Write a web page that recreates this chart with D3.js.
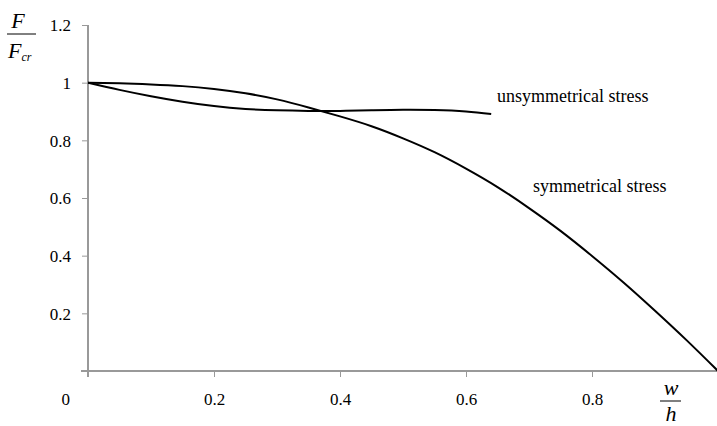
<!DOCTYPE html>
<html>
<head>
<meta charset="utf-8">
<script src="https://cdn.jsdelivr.net/npm/d3@7"></script>
<style>
	body{ margin:0; background:#fff; }
</style>
</head>
<body>
<svg id="chart" width="717" height="426"></svg>
<script>
	// w/h values and F/Fcr
	var symX = [0, 0.05, 0.1, 0.15, 0.2, 0.25, 0.3, 0.35, 0.4, 0.45, 0.5, 0.55, 0.6, 0.65, 0.7, 0.75, 0.8, 0.85, 0.9, 0.95, 1.0];
	var symY = [1.0, 0.998, 0.994, 0.988, 0.978, 0.963, 0.942, 0.914, 0.883, 0.849, 0.807, 0.759, 0.702, 0.638, 0.565, 0.486, 0.399, 0.307, 0.209, 0.107, 0.0];
	var unsymX = [0, 0.05, 0.1, 0.15, 0.2, 0.25, 0.3, 0.35, 0.4, 0.45, 0.5, 0.55, 0.6, 0.64];
	var unsymY = [1.0, 0.975, 0.953, 0.934, 0.919, 0.909, 0.904, 0.902, 0.902, 0.904, 0.906, 0.905, 0.9, 0.891];
	var xTicks = [0.2, 0.4, 0.6, 0.8];
	var yTicks = [0.2, 0.4, 0.6, 0.8, 1, 1.2];

	var serif = "'Liberation Serif', 'Times New Roman', Tinos, 'DejaVu Serif', serif";

	var svg = d3.select("#chart");
	var x = d3.scaleLinear().domain([0, 1]).range([88, 718]);
	var y = d3.scaleLinear().domain([0, 1.2]).range([371, 25]);

	// axes
	var xAxis = svg.append("g")
		.attr("transform", "translate(0,371)")
		.call(d3.axisBottom(x).tickValues(xTicks).tickSize(6).tickFormat(d3.format(".1f")));
	var yAxis = svg.append("g")
		.attr("transform", "translate(88,0)")
		.call(d3.axisLeft(y).tickValues(yTicks).tickSize(6).tickFormat(function(d){ return d == 1 ? "1" : d3.format(".1f")(d); }));

	[xAxis, yAxis].forEach(function(g){
		g.attr("font-family", null).attr("font-size", null);
		g.select(".domain").remove();
		g.selectAll(".tick line").attr("stroke", "#999").attr("stroke-width", 1);
		g.selectAll(".tick text").style("font-family", serif).style("font-size", "17px").attr("fill", "#000");
	});
	xAxis.selectAll(".tick text").attr("dy", null).attr("y", 34);
	yAxis.selectAll(".tick text").attr("x", -17).attr("dy", "0.35em");

	svg.append("line").attr("x1", 81).attr("x2", 717).attr("y1", 371).attr("y2", 371)
		.attr("stroke", "#999").attr("stroke-width", 2);
	svg.append("line").attr("x1", 88).attr("x2", 88).attr("y1", 25).attr("y2", 377)
		.attr("stroke", "#999").attr("stroke-width", 2);

	function label(tx, ty, size, str, italic){
		return svg.append("text").attr("x", tx).attr("y", ty)
			.style("font-family", serif).style("font-size", size + "px")
			.style("font-style", italic ? "italic" : "normal")
			.text(str);
	}

	label(70, 405, 17, "0").attr("text-anchor", "end");

	// curves
	var line = d3.line()
		.x(function(d){ return x(d[0]); })
		.y(function(d){ return y(d[1]); })
		.curve(d3.curveNatural);

	svg.append("path")
		.datum(d3.zip(symX, symY))
		.attr("d", line)
		.attr("fill", "none").attr("stroke", "#000").attr("stroke-width", 2);
	svg.append("path")
		.datum(d3.zip(unsymX, unsymY))
		.attr("d", line)
		.attr("fill", "none").attr("stroke", "#000").attr("stroke-width", 2);

	label(497, 102, 18, "unsymmetrical stress");
	label(533, 192, 18, "symmetrical stress");

	// F / Fcr
	label(18, 28, 22, "F", true).attr("text-anchor", "middle");
	svg.append("line").attr("x1", 7).attr("x2", 36).attr("y1", 34).attr("y2", 34)
		.attr("stroke", "#000").attr("stroke-width", 1);
	var fcr = label(8, 58, 22, "", true);
	fcr.append("tspan").text("F");
	fcr.append("tspan").attr("dy", 3).style("font-size", "12px").text("cr");

	// w / h
	label(671, 395, 22, "w", true).attr("text-anchor", "middle");
	svg.append("line").attr("x1", 660).attr("x2", 681).attr("y1", 401).attr("y2", 401)
		.attr("stroke", "#000").attr("stroke-width", 1);
	label(671, 421, 22, "h", true).attr("text-anchor", "middle");
</script>
</body>
</html>
